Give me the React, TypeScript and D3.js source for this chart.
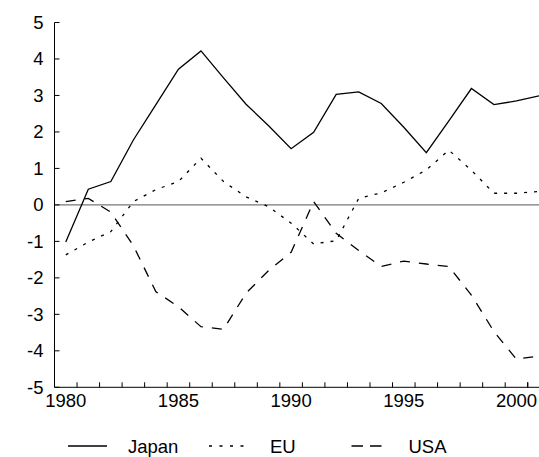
import React from "react";
import * as d3 from "d3";

const years = d3.range(1980, 2002);
const japan = [-1.02, 0.43, 0.64, 1.78, 2.75, 3.72, 4.22, 3.48, 2.76, 2.17, 1.54, 1.99, 3.03, 3.1, 2.78, 2.13, 1.43, 2.3, 3.19, 2.75, 2.85, 2.99];
const eu = [-1.37, -1.02, -0.73, 0.09, 0.42, 0.64, 1.28, 0.64, 0.22, -0.05, -0.5, -1.07, -0.98, 0.18, 0.33, 0.62, 0.96, 1.5, 0.95, 0.32, 0.32, 0.37];
const usa = [0.09, 0.18, -0.2, -1.12, -2.38, -2.79, -3.34, -3.41, -2.42, -1.8, -1.3, 0.09, -0.78, -1.25, -1.69, -1.54, -1.62, -1.69, -2.47, -3.47, -4.23, -4.14];
const yTicks = [-5, -4, -3, -2, -1, 0, 1, 2, 3, 4, 5];
const xLabels = [1980, 1985, 1990, 1995, 2000];
const seriesNames = ["Japan", "EU", "USA"];

const W = 539;
const H = 457;
const FONT = "'Liberation Sans', Arial, sans-serif";
const FS = 18.5;

export default function App() {
  const x = d3.scaleLinear().domain([1980, 2001.5]).range([54.5, 539]);
  const y = d3.scaleLinear().domain([-5, 5]).range([387.3, 22.5]);
  const line = d3
    .line<number>()
    .x((_, i) => x(years[i] + 0.5))
    .y((d) => y(d));

  const series = [
    { name: seriesNames[0], data: japan, dash: "none", legendDash: "none" },
    { name: seriesNames[1], data: eu, dash: "3,7", legendDash: "3,7.5" },
    { name: seriesNames[2], data: usa, dash: "10,9", legendDash: "11.5,7" },
  ];
  const legendX = [
    { line: [68, 107], text: 128 },
    { line: [209, 244], text: 270 },
    { line: [351.5, 382], text: 408.5 },
  ];

  const x0 = x.range()[0];
  const x1 = x.range()[1];
  const yb = y(-5);

  return (
    <svg
      width={W}
      height={H}
      style={{ position: "absolute", left: 0, top: 0, background: "#fff" }}
      fontFamily={FONT}
      fontSize={FS}
    >
      <rect x={0} y={0} width={W} height={H} fill="#fff" />
      <line x1={x0} x2={x1} y1={y(0)} y2={y(0)} stroke="#777" strokeWidth={1.3} />
      <line x1={x0} x2={x0} y1={y(5)} y2={yb} stroke="#000" strokeWidth={1} />
      {yTicks.map((t) => (
        <g key={"y" + t}>
          <line x1={x0} x2={x0 + 5} y1={y(t)} y2={y(t)} stroke="#000" strokeWidth={1} />
          <text x={43.5} y={y(t)} dy="0.35em" textAnchor="end" fill="#000">
            {t}
          </text>
        </g>
      ))}
      <line x1={x0} x2={x1} y1={yb} y2={yb} stroke="#000" strokeWidth={1} />
      {years.slice(1).concat([2001]).map((yr, i) => (
        <line key={"xt" + i} x1={x(yr)} x2={x(yr)} y1={yb} y2={yb - 5} stroke="#000" strokeWidth={1} />
      ))}
      {xLabels.map((yr) => (
        <text key={"xl" + yr} x={x(yr + 0.5)} y={406.5} textAnchor="middle" fill="#000">
          {yr}
        </text>
      ))}
      {series.map((s) => (
        <path
          key={s.name}
          d={line(s.data) || ""}
          fill="none"
          stroke="#000"
          strokeWidth={1.3}
          strokeDasharray={s.dash}
        />
      ))}
      {series.map((s, i) => (
        <g key={"lg" + s.name}>
          <line
            x1={legendX[i].line[0]}
            x2={legendX[i].line[1]}
            y1={446}
            y2={446}
            stroke="#000"
            strokeWidth={1.3}
            strokeDasharray={s.legendDash}
          />
          <text x={legendX[i].text} y={453} fill="#000">
            {s.name}
          </text>
        </g>
      ))}
    </svg>
  );
}
